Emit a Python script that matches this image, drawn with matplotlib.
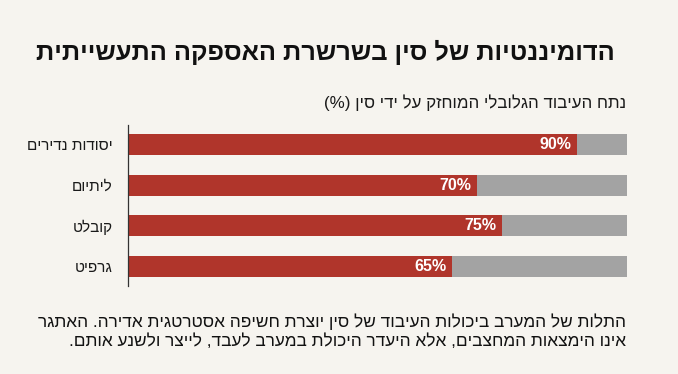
import matplotlib
matplotlib.use("Agg")
import matplotlib.pyplot as plt

# Chart data (logical Hebrew order)
title = "הדומיננטיות של סין בשרשרת האספקה התעשייתית"
subtitle = "נתח העיבוד הגלובלי המוחזק על ידי סין (%)"
categories = ["יסודות נדירים", "ליתיום", "קובלט", "גרפיט"]
china_share = [90, 70, 75, 65]
note_lines = [
    "התלות של המערב ביכולות העיבוד של סין יוצרת חשיפה אסטרטגית אדירה. האתגר",
    "אינו הימצאות המחצבים, אלא היעדר היכולת במערב לעבד, לייצר ולשנע אותם.",
]

BG = "#f6f4ef"
RED = "#b0352b"
GREY = "#a3a3a3"
FONT = ["Liberation Sans Narrow", "Liberation Sans", "DejaVu Sans"]


# matplotlib draws left-to-right, so flip the Hebrew into visual order
def rtl(s):
    swap = {"(": ")", ")": "("}
    return "".join(swap.get(c, c) for c in reversed(s))


plt.rcParams["font.family"] = FONT

fig = plt.figure(figsize=(6.78, 3.74), dpi=100, facecolor=BG)
ax = fig.add_axes([128 / 678, 1 - 286 / 374, 499 / 678, 161 / 374])
ax.set_facecolor(BG)

ypos = list(range(len(categories)))
rest = [100 - v for v in china_share]
ax.barh(ypos, china_share, height=0.52, color=RED, zorder=2)
ax.barh(ypos, rest, left=china_share, height=0.52, color=GREY, zorder=2)

for y, v in zip(ypos, china_share):
    ax.text(v - 1.2, y, f"{v}%", ha="right", va="center", color="white",
            fontsize=11.5, fontweight="bold", zorder=3)

ax.set_xlim(0, 100)
ax.set_ylim(3.48, -0.48)
ax.set_yticks(ypos)
ax.set_yticklabels([rtl(c) for c in categories], fontsize=11)
ax.tick_params(axis="y", length=0, pad=11, colors="#1a1a1a")
ax.set_xticks([])
for side in ["top", "right", "bottom"]:
    ax.spines[side].set_visible(False)
ax.spines["left"].set_color("#333333")
ax.spines["left"].set_linewidth(0.9)

fig.text(615 / 678, 1 - 52 / 374, rtl(title), ha="right", va="center",
         fontsize=18.3, fontweight="bold", color="#111111")
fig.text(626 / 678, 1 - 103 / 374, rtl(subtitle), ha="right", va="center",
         fontsize=12.2, color="#1a1a1a")
fig.text(626 / 678, 1 - 322 / 374, rtl(note_lines[0]), ha="right", va="center",
         fontsize=12.4, color="#111111")
fig.text(626 / 678, 1 - 341 / 374, rtl(note_lines[1]), ha="right", va="center",
         fontsize=12.4, color="#111111")

fig.savefig("out.png", dpi=100, facecolor=BG)
